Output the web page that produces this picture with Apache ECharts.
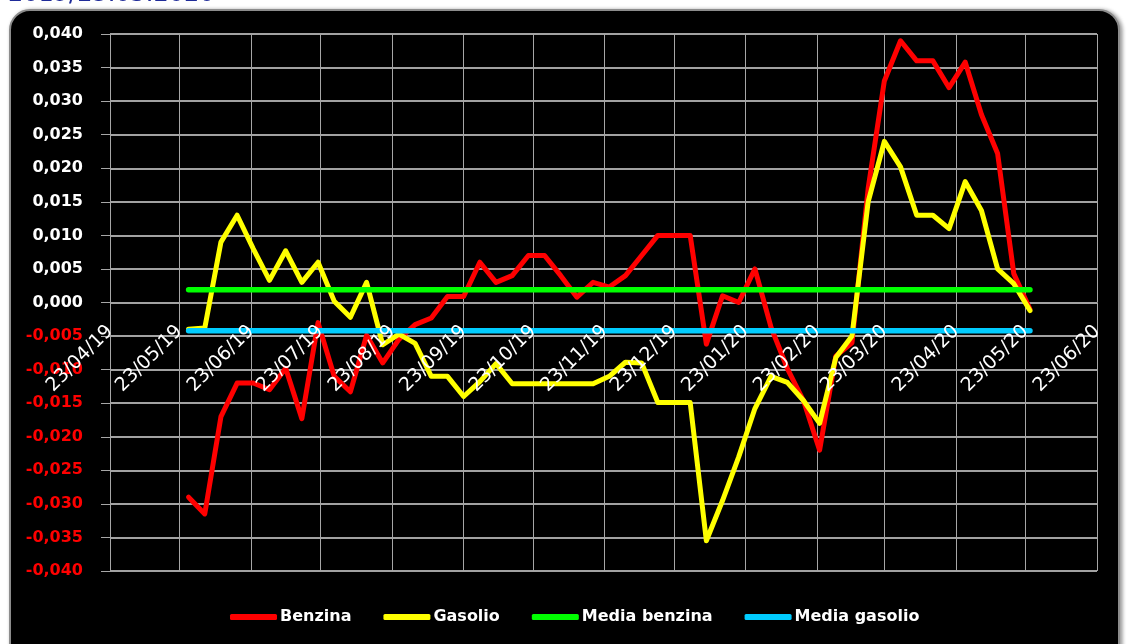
<!DOCTYPE html>
<html>
<head>
<meta charset="utf-8">
<script src="https://cdn.jsdelivr.net/npm/echarts@6/dist/echarts.min.js"></script>
<style>
html,body{margin:0;padding:0;background:#ffffff;}
#chart{width:1130px;height:644px;}
</style>
</head>
<body>
<div id="chart"></div>
<script>
// ---- data ----
const dates = [
  '2019-05-27','2019-06-03','2019-06-10','2019-06-17','2019-06-24',
  '2019-07-01','2019-07-08','2019-07-15','2019-07-22','2019-07-29',
  '2019-08-05','2019-08-12','2019-08-19','2019-08-26',
  '2019-09-02','2019-09-09','2019-09-16','2019-09-23','2019-09-30',
  '2019-10-07','2019-10-14','2019-10-21','2019-10-28',
  '2019-11-04','2019-11-11','2019-11-18','2019-11-25',
  '2019-12-02','2019-12-09','2019-12-16','2019-12-23','2019-12-30',
  '2020-01-06','2020-01-13','2020-01-20','2020-01-27',
  '2020-02-03','2020-02-10','2020-02-17','2020-02-24',
  '2020-03-02','2020-03-09','2020-03-16','2020-03-23','2020-03-30',
  '2020-04-06','2020-04-13','2020-04-20','2020-04-27',
  '2020-05-04','2020-05-11','2020-05-18','2020-05-25'
];
const benzina = [
  -0.029,-0.0315,-0.017,-0.012,-0.012,
  -0.013,-0.0098,-0.0173,-0.003,-0.011,
  -0.0133,-0.0049,-0.009,-0.0055,
  -0.0033,-0.0023,0.0009,0.0009,0.006,
  0.003,0.004,0.007,0.007,
  0.004,0.0008,0.003,0.0023,
  0.004,0.007,0.010,0.010,0.010,
  -0.0062,0.001,0.0,0.005,
  -0.0037,-0.0098,-0.0146,-0.022,
  -0.008,-0.006,0.017,0.033,0.039,
  0.036,0.036,0.032,0.0358,
  0.028,0.0222,0.0043,-0.001
];
const gasolio = [
  -0.004,-0.0038,0.009,0.013,0.008,
  0.0033,0.0077,0.003,0.006,0.0002,
  -0.0022,0.003,-0.0063,-0.0047,
  -0.0061,-0.011,-0.011,-0.014,-0.0118,
  -0.0091,-0.0121,-0.0121,-0.0121,
  -0.0121,-0.0121,-0.0121,-0.011,
  -0.0089,-0.009,-0.0149,-0.0149,-0.0149,
  -0.0355,-0.0295,-0.023,-0.0158,
  -0.011,-0.0119,-0.0146,-0.018,
  -0.0082,-0.005,0.015,0.024,0.0202,
  0.013,0.013,0.011,0.018,
  0.0137,0.005,0.0028,-0.0012
];
const mediaBenzina = 0.0019;
const mediaGasolio = -0.0042;
const tickDates = [
  '2019-04-23','2019-05-23','2019-06-23','2019-07-23','2019-08-23',
  '2019-09-23','2019-10-23','2019-11-23','2019-12-23','2020-01-23',
  '2020-02-23','2020-03-23','2020-04-23','2020-05-23','2020-06-23'
];
const seriesNames = ['Benzina','Gasolio','Media benzina','Media gasolio'];
const titleText = '2019/23.05.2020';

// ---- helpers ----
function ts(s){ const p = s.split('-').map(Number); return Date.UTC(p[0], p[1]-1, p[2]); }
function pad(n){ return (n < 10 ? '0' : '') + n; }
function fmtDate(v){
  const d = new Date(v);
  return pad(d.getUTCDate()) + '/' + pad(d.getUTCMonth()+1) + '/' + String(d.getUTCFullYear()).slice(2);
}
const tickTs = tickDates.map(ts);
const xs = dates.map(ts);

const GRID_TOP = 34, GRID_BOTTOM = 73, H = 644;
const Y_MIN = -0.04, Y_MAX = 0.04;
// the date labels sit on the value 0 of the y scale
const plotH = H - GRID_TOP - GRID_BOTTOM;
const zeroOffset = -plotH * (0 - Y_MIN) / (Y_MAX - Y_MIN);

const chart = echarts.init(document.getElementById('chart'), null, {renderer:'canvas'});
const lineBase = {type:'line', symbol:'none', showSymbol:false, smooth:false, animation:false, xAxisIndex:0};

chart.setOption({
  backgroundColor:'#ffffff',
  animation:false,
  graphic:[
    {type:'rect', z:-10, silent:true,
     shape:{x:10, y:10, width:1109, height:660, r:[20,20,0,0]},
     style:{fill:'#000000', stroke:'#8c8c8c', lineWidth:2, shadowBlur:4, shadowColor:'rgba(0,0,0,0.4)', shadowOffsetX:2, shadowOffsetY:1}},
    {type:'text', z:-5, left:8, top:-17, silent:true,
     style:{text:titleText, fill:'#1f2b99', font:'24px "DejaVu Sans"'}}
  ],
  grid:{left:110, right:33, top:GRID_TOP, bottom:GRID_BOTTOM, containLabel:false, outerBoundsMode:'none'},
  legend:{
    left:225, top:604,
    itemWidth:47, itemHeight:6, itemGap:32,
    icon:'roundRect',
    data:seriesNames,
    textStyle:{color:'#ffffff', fontFamily:'DejaVu Sans', fontWeight:'bold', fontSize:16, padding:[0,0,0,-2]}
  },
  xAxis:[
    { // grid lines (below the series)
      type:'value',
      min:tickTs[0], max:tickTs[tickTs.length-1],
      axisLine:{show:false, onZero:false},
      axisTick:{show:false, customValues:tickTs},
      axisLabel:{show:false, customValues:tickTs},
      splitLine:{show:true, lineStyle:{color:'#a6a6a6', width:1}}
    },
    { // date labels (drawn over the series), placed on y = 0
      type:'value',
      position:'bottom',
      offset:zeroOffset,
      z:20,
      min:tickTs[0], max:tickTs[tickTs.length-1],
      axisLine:{show:false, onZero:false},
      axisTick:{show:false, customValues:tickTs},
      axisLabel:{
        customValues:tickTs,
        rotate:45, margin:26,
        color:'#ffffff', fontFamily:'DejaVu Sans', fontSize:19,
        formatter:function(v){ return fmtDate(v); }
      },
      splitLine:{show:false}
    }
  ],
  yAxis:{
    type:'value',
    min:Y_MIN, max:Y_MAX, interval:0.005,
    axisLine:{show:true, onZero:false, lineStyle:{color:'#a6a6a6', width:1}},
    axisTick:{show:true, inside:false, length:9, lineStyle:{color:'#a6a6a6'}},
    axisLabel:{
      margin:27,
      fontFamily:'DejaVu Sans', fontWeight:'bold', fontSize:16,
      color:function(v){ return Number(v) < -1e-9 ? '#ff0000' : '#ffffff'; },
      formatter:function(v){
        const r = Math.round(v*1000)/1000;
        return (r < 0 ? '-' : '') + Math.abs(r).toFixed(3).replace('.', ',');
      }
    },
    splitLine:{show:true, lineStyle:{color:'#d9d9d9', width:1.5}}
  },
  series:[
    Object.assign({}, lineBase, {name:seriesNames[0], color:'#ff0000',
      lineStyle:{color:'#ff0000', width:5, join:'round', cap:'round'},
      data:xs.map((x,i)=>[x, benzina[i]])}),
    Object.assign({}, lineBase, {name:seriesNames[1], color:'#ffff00',
      lineStyle:{color:'#ffff00', width:5, join:'round', cap:'round'},
      data:xs.map((x,i)=>[x, gasolio[i]])}),
    Object.assign({}, lineBase, {name:seriesNames[2], color:'#00ff00',
      lineStyle:{color:'#00ff00', width:5.5, cap:'round'},
      data:xs.map(x=>[x, mediaBenzina])}),
    Object.assign({}, lineBase, {name:seriesNames[3], color:'#00ccff',
      lineStyle:{color:'#00ccff', width:5.5, cap:'round'},
      data:xs.map(x=>[x, mediaGasolio])})
  ]
});
</script>
</body>
</html>
